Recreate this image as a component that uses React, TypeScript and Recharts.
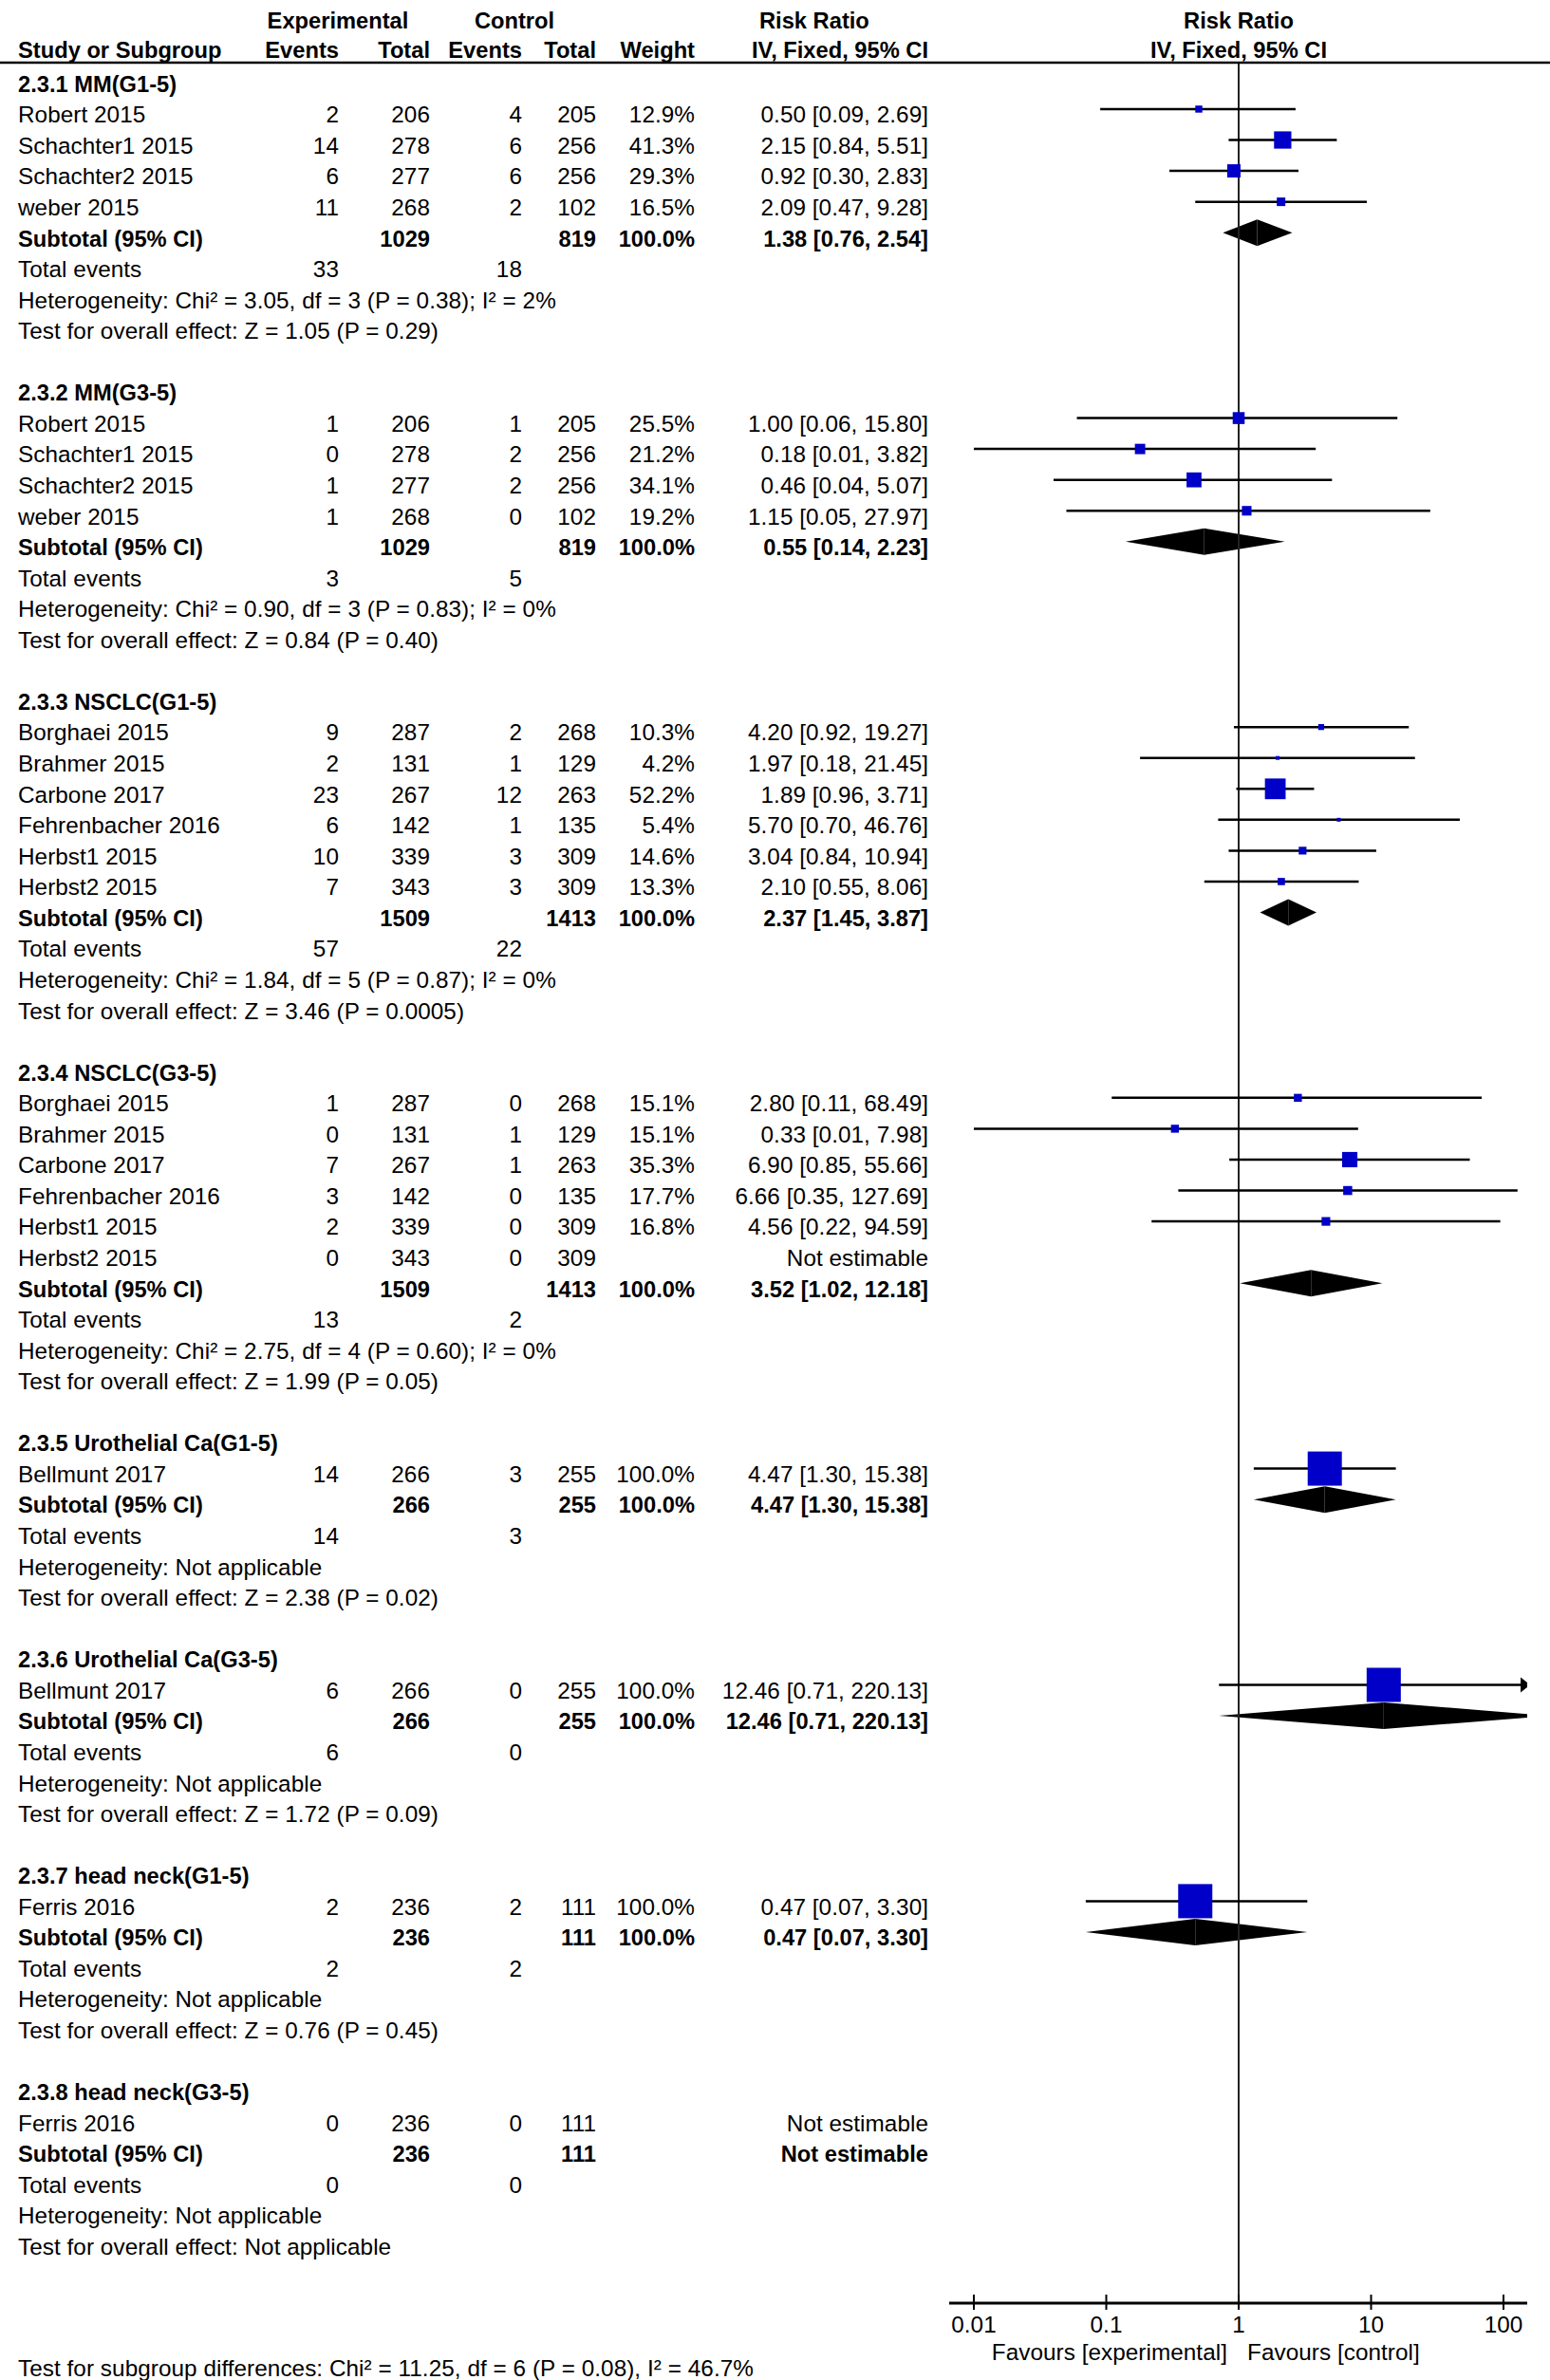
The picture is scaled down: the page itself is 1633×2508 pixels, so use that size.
import React from 'react';
import { ScatterChart, Scatter, XAxis, YAxis, ReferenceLine, ReferenceArea } from 'recharts';

// ---------------- data ----------------
const groupTitles = [
  '2.3.1 MM(G1-5)', '2.3.2 MM(G3-5)', '2.3.3 NSCLC(G1-5)', '2.3.4 NSCLC(G3-5)',
  '2.3.5 Urothelial Ca(G1-5)', '2.3.6 Urothelial Ca(G3-5)', '2.3.7 head neck(G1-5)', '2.3.8 head neck(G3-5)',
];
const studyGroup = [0, 0, 0, 0, 1, 1, 1, 1, 2, 2, 2, 2, 2, 2, 3, 3, 3, 3, 3, 3, 4, 5, 6, 7];
const studyNames = [
  'Robert 2015', 'Schachter1 2015', 'Schachter2 2015', 'weber 2015',
  'Robert 2015', 'Schachter1 2015', 'Schachter2 2015', 'weber 2015',
  'Borghaei 2015', 'Brahmer 2015', 'Carbone 2017', 'Fehrenbacher 2016', 'Herbst1 2015', 'Herbst2 2015',
  'Borghaei 2015', 'Brahmer 2015', 'Carbone 2017', 'Fehrenbacher 2016', 'Herbst1 2015', 'Herbst2 2015',
  'Bellmunt 2017', 'Bellmunt 2017', 'Ferris 2016', 'Ferris 2016',
];
const expEvents = [2, 14, 6, 11, 1, 0, 1, 1, 9, 2, 23, 6, 10, 7, 1, 0, 7, 3, 2, 0, 14, 6, 2, 0];
const expTotals = [206, 278, 277, 268, 206, 278, 277, 268, 287, 131, 267, 142, 339, 343, 287, 131, 267, 142, 339, 343, 266, 266, 236, 236];
const ctrlEvents = [4, 6, 6, 2, 1, 2, 2, 0, 2, 1, 12, 1, 3, 3, 0, 1, 1, 0, 0, 0, 3, 0, 2, 0];
const ctrlTotals = [205, 256, 256, 102, 205, 256, 256, 102, 268, 129, 263, 135, 309, 309, 268, 129, 263, 135, 309, 309, 255, 255, 111, 111];
const weights: (number | null)[] = [12.9, 41.3, 29.3, 16.5, 25.5, 21.2, 34.1, 19.2, 10.3, 4.2, 52.2, 5.4, 14.6, 13.3, 15.1, 15.1, 35.3, 17.7, 16.8, null, 100, 100, 100, null];
const ratios: (number | null)[] = [0.5, 2.15, 0.92, 2.09, 1.0, 0.18, 0.46, 1.15, 4.2, 1.97, 1.89, 5.7, 3.04, 2.1, 2.8, 0.33, 6.9, 6.66, 4.56, null, 4.47, 12.46, 0.47, null];
const lowers: (number | null)[] = [0.09, 0.84, 0.3, 0.47, 0.06, 0.01, 0.04, 0.05, 0.92, 0.18, 0.96, 0.7, 0.84, 0.55, 0.11, 0.01, 0.85, 0.35, 0.22, null, 1.3, 0.71, 0.07, null];
const uppers: (number | null)[] = [2.69, 5.51, 2.83, 9.28, 15.8, 3.82, 5.07, 27.97, 19.27, 21.45, 3.71, 46.76, 10.94, 8.06, 68.49, 7.98, 55.66, 127.69, 94.59, null, 15.38, 220.13, 3.3, null];

const subExpTotals = [1029, 1029, 1509, 1509, 266, 266, 236, 236];
const subCtrlTotals = [819, 819, 1413, 1413, 255, 255, 111, 111];
const subWeights: (number | null)[] = [100, 100, 100, 100, 100, 100, 100, null];
const subRatios: (number | null)[] = [1.38, 0.55, 2.37, 3.52, 4.47, 12.46, 0.47, null];
const subLowers: (number | null)[] = [0.76, 0.14, 1.45, 1.02, 1.3, 0.71, 0.07, null];
const subUppers: (number | null)[] = [2.54, 2.23, 3.87, 12.18, 15.38, 220.13, 3.3, null];
const totalExpEvents = [33, 3, 57, 13, 14, 6, 2, 0];
const totalCtrlEvents = [18, 5, 22, 2, 3, 0, 2, 0];
const heterogeneityTexts = [
  'Heterogeneity: Chi² = 3.05, df = 3 (P = 0.38); I² = 2%',
  'Heterogeneity: Chi² = 0.90, df = 3 (P = 0.83); I² = 0%',
  'Heterogeneity: Chi² = 1.84, df = 5 (P = 0.87); I² = 0%',
  'Heterogeneity: Chi² = 2.75, df = 4 (P = 0.60); I² = 0%',
  'Heterogeneity: Not applicable',
  'Heterogeneity: Not applicable',
  'Heterogeneity: Not applicable',
  'Heterogeneity: Not applicable',
];
const overallEffectTexts = [
  'Test for overall effect: Z = 1.05 (P = 0.29)',
  'Test for overall effect: Z = 0.84 (P = 0.40)',
  'Test for overall effect: Z = 3.46 (P = 0.0005)',
  'Test for overall effect: Z = 1.99 (P = 0.05)',
  'Test for overall effect: Z = 2.38 (P = 0.02)',
  'Test for overall effect: Z = 1.72 (P = 0.09)',
  'Test for overall effect: Z = 0.76 (P = 0.45)',
  'Test for overall effect: Not applicable',
];
const subgroupDiffText = 'Test for subgroup differences: Chi² = 11.25, df = 6 (P = 0.08), I² = 46.7%';
const xTicks = [0.01, 0.1, 1, 10, 100];
const tickLabels = ['0.01', '0.1', '1', '10', '100'];
const favoursLeft = 'Favours [experimental]';
const favoursRight = 'Favours [control]';

// ---------------- layout ----------------
const W = 1633;
const H = 2508;
const FONT = '"Liberation Sans", Arial, Helvetica, sans-serif';
const FS = 24.3;
const FS_BOLD = 23.7;
const LS = 0.05;
const XMIN = 0.00651;
const XMAX = 151.1;
const YMIN = -0.504;
const YMAX = 72.01;
const ROW0 = 96.7;
const PITCH = 32.56;
const COL = { name: 19, ee: 357, et: 453, ce: 550, ct: 628, w: 732, rr: 978 };
const DIAMOND_HALF = 0.43;

type TextItem = { x: number; y: number; text: string; anchor: 'start' | 'middle' | 'end'; bold?: boolean };

const fmt = (v: number) => v.toFixed(2);
const rrText = (r: number | null, lo: number | null, hi: number | null) =>
  r === null || lo === null || hi === null ? 'Not estimable' : `${fmt(r)} [${fmt(lo)}, ${fmt(hi)}]`;

const items: TextItem[] = [];
const ciSegs: { row: number; lo: number; hi: number }[] = [];
const squares: { x: number; y: number; w: number }[] = [];
const arrows: { x: number; y: number }[] = [];
const diamonds: { row: number; est: number; lo: number; hi: number }[] = [];

const by = (row: number) => ROW0 + row * PITCH;
{
  let row = 0;
  let si = 0;
  groupTitles.forEach((title, g) => {
    items.push({ x: COL.name, y: by(row), text: title, anchor: 'start', bold: true });
    row++;
    while (si < studyGroup.length && studyGroup[si] === g) {
      const y = by(row);
      items.push({ x: COL.name, y, text: studyNames[si], anchor: 'start' });
      items.push({ x: COL.ee, y, text: String(expEvents[si]), anchor: 'end' });
      items.push({ x: COL.et, y, text: String(expTotals[si]), anchor: 'end' });
      items.push({ x: COL.ce, y, text: String(ctrlEvents[si]), anchor: 'end' });
      items.push({ x: COL.ct, y, text: String(ctrlTotals[si]), anchor: 'end' });
      const w = weights[si];
      if (w !== null) items.push({ x: COL.w, y, text: `${w.toFixed(1)}%`, anchor: 'end' });
      items.push({ x: COL.rr, y, text: rrText(ratios[si], lowers[si], uppers[si]), anchor: 'end' });
      const r = ratios[si];
      const lo = lowers[si];
      const hi = uppers[si];
      if (r !== null && lo !== null && hi !== null && w !== null) {
        ciSegs.push({ row, lo, hi });
        squares.push({ x: r, y: row, w });
        if (hi > XMAX) arrows.push({ x: XMAX, y: row });
      }
      row++;
      si++;
    }
    {
      const y = by(row);
      items.push({ x: COL.name, y, text: 'Subtotal (95% CI)', anchor: 'start', bold: true });
      items.push({ x: COL.et, y, text: String(subExpTotals[g]), anchor: 'end', bold: true });
      items.push({ x: COL.ct, y, text: String(subCtrlTotals[g]), anchor: 'end', bold: true });
      const sw = subWeights[g];
      if (sw !== null) items.push({ x: COL.w, y, text: `${sw.toFixed(1)}%`, anchor: 'end', bold: true });
      items.push({ x: COL.rr, y, text: rrText(subRatios[g], subLowers[g], subUppers[g]), anchor: 'end', bold: true });
      const r = subRatios[g];
      const lo = subLowers[g];
      const hi = subUppers[g];
      if (r !== null && lo !== null && hi !== null) diamonds.push({ row, est: r, lo, hi });
      row++;
    }
    {
      const y = by(row);
      items.push({ x: COL.name, y, text: 'Total events', anchor: 'start' });
      items.push({ x: COL.ee, y, text: String(totalExpEvents[g]), anchor: 'end' });
      items.push({ x: COL.ce, y, text: String(totalCtrlEvents[g]), anchor: 'end' });
      row++;
    }
    items.push({ x: COL.name, y: by(row), text: heterogeneityTexts[g], anchor: 'start' });
    row++;
    items.push({ x: COL.name, y: by(row), text: overallEffectTexts[g], anchor: 'start' });
    row++;
    row++; // blank
  });
}

const headerItems: TextItem[] = [
  { x: 356, y: 30, text: 'Experimental', anchor: 'middle', bold: true },
  { x: 542, y: 30, text: 'Control', anchor: 'middle', bold: true },
  { x: 800, y: 30, text: 'Risk Ratio', anchor: 'start', bold: true },
  { x: 1305, y: 30, text: 'Risk Ratio', anchor: 'middle', bold: true },
  { x: COL.name, y: 61, text: 'Study or Subgroup', anchor: 'start', bold: true },
  { x: COL.ee, y: 61, text: 'Events', anchor: 'end', bold: true },
  { x: COL.et, y: 61, text: 'Total', anchor: 'end', bold: true },
  { x: COL.ce, y: 61, text: 'Events', anchor: 'end', bold: true },
  { x: COL.ct, y: 61, text: 'Total', anchor: 'end', bold: true },
  { x: COL.w, y: 61, text: 'Weight', anchor: 'end', bold: true },
  { x: COL.rr, y: 61, text: 'IV, Fixed, 95% CI', anchor: 'end', bold: true },
  { x: 1305, y: 61, text: 'IV, Fixed, 95% CI', anchor: 'middle', bold: true },
  { x: 1293, y: 2487, text: favoursLeft, anchor: 'end' },
  { x: 1314, y: 2487, text: favoursRight, anchor: 'start' },
  { x: COL.name, y: 2504, text: subgroupDiffText, anchor: 'start' },
];

// ---------------- shapes ----------------
const squareSide = (w: number) => Math.max(4, 36 * Math.pow(w / 100, 0.77));

const SquareShape = (p: any) => {
  const s = squareSide(p.payload.w);
  return <rect x={p.cx - s / 2} y={p.cy - s / 2} width={s} height={s} fill="#0000c8" />;
};

const ArrowShape = (p: any) => (
  <polygon points={`${p.cx + 3},${p.cy} ${p.cx - 7},${p.cy - 8} ${p.cx - 7},${p.cy + 8}`} fill="#000" />
);

const LeftHalf = (p: any) => {
  const { x, y, width, height } = p;
  return (
    <polygon
      points={`${x},${y + height / 2} ${x + width},${y} ${x + width},${y + height}`}
      fill="#000"
      clipPath={p.clipPath}
    />
  );
};
const RightHalf = (p: any) => {
  const { x, y, width, height } = p;
  return (
    <polygon
      points={`${x},${y} ${x + width},${y + height / 2} ${x},${y + height}`}
      fill="#000"
      clipPath={p.clipPath}
    />
  );
};

const AxisTick = (p: any) => {
  const { x, y, payload } = p;
  const idx = xTicks.indexOf(payload.value);
  const label = idx >= 0 ? tickLabels[idx] : String(payload.value);
  return (
    <g>
      <line x1={x} x2={x} y1={y - 9} y2={y + 7} stroke="#000" strokeWidth={2} />
      <text x={x} y={y + 31} textAnchor="middle" fontSize={FS} fontFamily={FONT} letterSpacing={LS} fill="#000">
        {label}
      </text>
    </g>
  );
};

export default function App() {
  return (
    <div style={{ position: 'absolute', left: 0, top: 0, width: W, height: H, background: '#fff', overflow: 'hidden' }}>
      <ScatterChart width={W} height={H} margin={{ top: 66, right: 24, bottom: 0, left: 1000 }}>
        <XAxis
          type="number"
          dataKey="x"
          scale="log"
          domain={[XMIN, XMAX]}
          allowDataOverflow
          ticks={xTicks}
          height={81}
          tick={<AxisTick />}
          tickLine={false}
          tickSize={0}
          tickMargin={0}
          axisLine={{ stroke: '#000', strokeWidth: 3 }}
          interval={0}
        />
        <YAxis type="number" dataKey="y" domain={[YMIN, YMAX]} reversed hide allowDataOverflow />
        <ReferenceLine x={1} stroke="#222" strokeWidth={2} ifOverflow="visible" />
        {ciSegs.map((s, i) => (
          <ReferenceLine
            key={`ci${i}`}
            segment={[{ x: s.lo, y: s.row }, { x: s.hi, y: s.row }]}
            stroke="#000"
            strokeWidth={2.5}
            ifOverflow="hidden"
          />
        ))}
        {diamonds.map((d, i) => (
          <ReferenceArea
            key={`dl${i}`}
            x1={d.lo}
            x2={d.est}
            y1={d.row - DIAMOND_HALF}
            y2={d.row + DIAMOND_HALF}
            ifOverflow="hidden"
            shape={LeftHalf}
            fill="#000"
            fillOpacity={1}
          />
        ))}
        {diamonds.map((d, i) => (
          <ReferenceArea
            key={`dr${i}`}
            x1={d.est}
            x2={d.hi}
            y1={d.row - DIAMOND_HALF}
            y2={d.row + DIAMOND_HALF}
            ifOverflow="hidden"
            shape={RightHalf}
            fill="#000"
            fillOpacity={1}
          />
        ))}
        <Scatter data={squares} shape={SquareShape} isAnimationActive={false} />
        <Scatter data={arrows} shape={ArrowShape} isAnimationActive={false} />
      </ScatterChart>
      <svg
        width={W}
        height={H}
        style={{ position: 'absolute', left: 0, top: 0, pointerEvents: 'none' }}
        fontFamily={FONT}
      >
        <line x1={0} x2={W} y1={66} y2={66} stroke="#000" strokeWidth={2.5} />
        {[...headerItems, ...items].map((t, i) => (
          <text
            key={i}
            x={t.x}
            y={t.y}
            textAnchor={t.anchor}
            fontWeight={t.bold ? 'bold' : 'normal'}
            fontSize={t.bold ? FS_BOLD : FS}
            letterSpacing={t.bold ? 0 : LS}
            fill="#000"
          >
            {t.text}
          </text>
        ))}
      </svg>
    </div>
  );
}
